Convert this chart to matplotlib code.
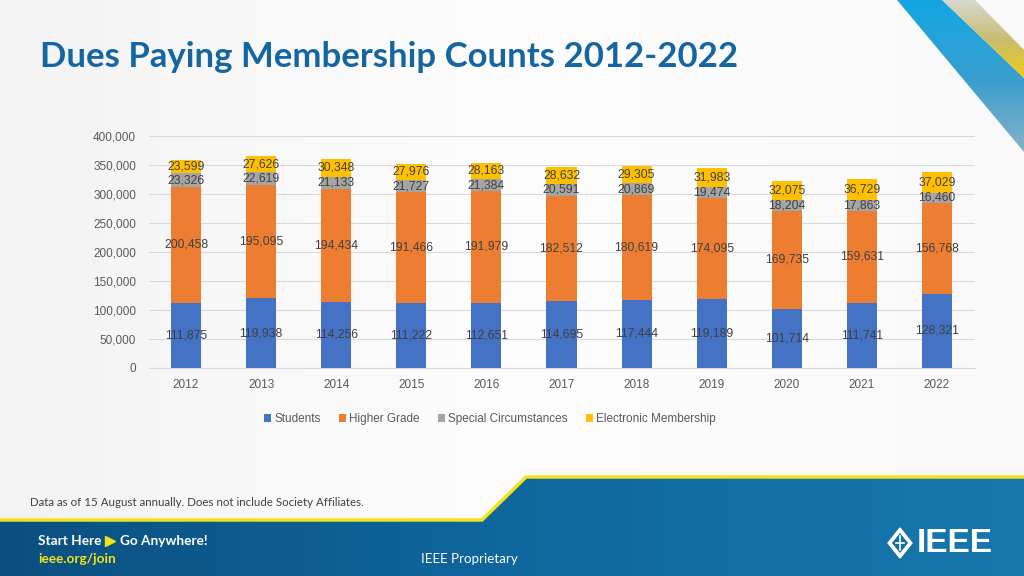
import matplotlib
matplotlib.use("Agg")
import matplotlib.pyplot as plt
import numpy as np
from matplotlib.patches import Polygon

years = ["2012", "2013", "2014", "2015", "2016", "2017", "2018", "2019", "2020", "2021", "2022"]
students = [111875, 119938, 114256, 111222, 112651, 114695, 117444, 119189, 101714, 111741, 128321]
higher_grade = [200458, 195095, 194434, 191466, 191979, 182512, 180619, 174095, 169735, 159631, 156768]
special = [23326, 22619, 21133, 21727, 21384, 20591, 20869, 19474, 18204, 17863, 16460]
electronic = [23599, 27626, 30348, 27976, 28163, 28632, 29305, 31983, 32075, 36729, 37029]
series_names = ["Students", "Higher Grade", "Special Circumstances", "Electronic Membership"]
colors = ["#4472C4", "#ED7D31", "#A5A5A5", "#FFC000"]
y_ticks = [0, 50000, 100000, 150000, 200000, 250000, 300000, 350000, 400000]

W, H = 1024, 576
fig = plt.figure(figsize=(W / 100, H / 100), dpi=100)
fig.patch.set_facecolor("#f9f9f9")

# ---------- background decorations ----------
bg = fig.add_axes([0, 0, 1, 1], zorder=0)
bg.set_xlim(0, W)
bg.set_ylim(H, 0)
bg.axis("off")

grad = np.linspace(0, 1, 256).reshape(1, -1)
bg.imshow(grad, extent=[0, W, H, 0], cmap=matplotlib.colors.LinearSegmentedColormap.from_list(
    "pg", ["#f3f3f3", "#fdfdfd", "#f9f9f9"]), aspect="auto", zorder=0)

# top-right stripes
blue_stripe = Polygon([(897, 0), (942, 0), (1024, 78), (1024, 152)], closed=True,
                      facecolor="none", edgecolor="none")
bg.add_patch(blue_stripe)
g = np.linspace(0, 1, 256).reshape(-1, 1)
im = bg.imshow(g, extent=[890, W, 160, 0], aspect="auto", zorder=1,
               cmap=matplotlib.colors.LinearSegmentedColormap.from_list(
                   "bs", ["#12a6e2", "#3a9fcf", "#8fb3c4"]))
im.set_clip_path(blue_stripe)

yellow_stripe = Polygon([(942, 0), (975, 0), (1024, 50), (1024, 78)], closed=True,
                        facecolor="none", edgecolor="none")
bg.add_patch(yellow_stripe)
im2 = bg.imshow(g, extent=[940, W, 80, 0], aspect="auto", zorder=1,
                cmap=matplotlib.colors.LinearSegmentedColormap.from_list(
                    "ys", ["#d8d8d2", "#c8bd70", "#f2cc10"]))
im2.set_clip_path(yellow_stripe)

# bottom blue band
band_pts = [(0, 520), (482, 520), (526, 477), (W, 477), (W, H), (0, H)]
band = Polygon(band_pts, closed=True, facecolor="none", edgecolor="none")
bg.add_patch(band)
gx = np.linspace(0, 1, 256).reshape(1, -1)
im3 = bg.imshow(gx, extent=[0, W, H, 470], aspect="auto", zorder=2,
                cmap=matplotlib.colors.LinearSegmentedColormap.from_list(
                    "bb", ["#0b4f80", "#0f679e", "#1778ae"]))
im3.set_clip_path(band)
bg.plot([0, 482, 526, W], [520, 520, 477, 477], color="#f2e21a", lw=2.5, zorder=3,
        solid_joinstyle="miter")

# texts
bg.text(40, 57, "Dues Paying Membership Counts 2012-2022", fontsize=25, fontweight="bold",
        family="Lato", color="#1565a3", va="center", ha="left", zorder=5)
bg.text(30, 502, "Data as of 15 August annually. Does not include Society Affiliates.",
        fontsize=8.3, family="Lato", color="#404040", va="center", ha="left", zorder=5)
bg.text(38, 541, "Start Here", fontsize=9.8, fontweight="bold", family="Lato",
        color="white", va="center", ha="left", zorder=5)
bg.plot([110], [541], marker=">", color="#f2e21a", markersize=6.5, zorder=5)
bg.text(120, 541, "Go Anywhere!", fontsize=9.8, fontweight="bold", family="Lato",
        color="white", va="center", ha="left", zorder=5)
bg.text(38, 559, "ieee.org/join", fontsize=9.8, fontweight="bold", family="Lato",
        color="#f2e21a", va="center", ha="left", zorder=5)
bg.text(421, 559, "IEEE Proprietary", fontsize=9.6, family="Lato",
        color="white", va="center", ha="left", zorder=5)

# IEEE logo
cx, cy = 900, 543
outer = Polygon([(cx, cy - 15), (cx + 12, cy), (cx, cy + 15), (cx - 12, cy)], closed=True,
                facecolor="white", edgecolor="white", zorder=5)
inner = Polygon([(cx, cy - 10), (cx + 8, cy), (cx, cy + 10), (cx - 8, cy)], closed=True,
                facecolor="#136ea5", edgecolor="none", zorder=6)
bg.add_patch(outer)
bg.add_patch(inner)
bg.plot([cx, cx], [cy - 7, cy + 7], color="white", lw=1.2, zorder=7)
bg.plot([cx - 4, cx + 4], [cy, cy], color="white", lw=1.2, zorder=7)
bg.text(917, 543, "IEEE", fontsize=24, fontweight="bold", family="Liberation Sans",
        color="white", va="center", ha="left", zorder=5)

# ---------- chart ----------
left, right = 148.5, 974.5
top, bottom = 136, 368
ax = fig.add_axes([left / W, 1 - bottom / H, (right - left) / W, (bottom - top) / H], zorder=2)
ax.set_facecolor("none")

x = np.arange(len(years))
data = [students, higher_grade, special, electronic]
base = np.zeros(len(years))
width = 0.4
for vals, name, col in zip(data, series_names, colors):
    vals = np.array(vals, dtype=float)
    ax.bar(x, vals, width, bottom=base, color=col, label=name, zorder=3)
    for xi, b, v in zip(x, base, vals):
        ax.text(xi, b + v / 2, f"{int(v):,}", ha="center", va="center", fontsize=8.7,
                family="Liberation Sans", color="#404040", zorder=4)
    base += vals

ax.set_xlim(-0.5, len(years) - 0.5)
ax.set_ylim(0, 400000)
ax.set_yticks(y_ticks)
ax.set_yticklabels([f"{v:,}" for v in y_ticks])
ax.set_xticks(x)
ax.set_xticklabels(years)
for lbl in ax.get_xticklabels() + ax.get_yticklabels():
    lbl.set_family("Liberation Sans")
    lbl.set_fontsize(8.5)
    lbl.set_color("#595959")
ax.tick_params(axis="both", length=0)
ax.tick_params(axis="y", pad=9)
ax.tick_params(axis="x", pad=8)
ax.grid(axis="y", color="#d9d9d9", lw=0.8, zorder=0)
for s in ["top", "right", "left"]:
    ax.spines[s].set_visible(False)
ax.spines["bottom"].set_color("#d9d9d9")
ax.spines["bottom"].set_linewidth(0.8)

leg = ax.legend(loc="center", bbox_to_anchor=(490 / W, 1 - 419 / H), bbox_transform=fig.transFigure,
                ncol=4, frameon=False, handlelength=0.6, handleheight=0.6, handletextpad=0.3,
                columnspacing=1.5, prop={"family": "Liberation Sans", "size": 8.5})
for t in leg.get_texts():
    t.set_color("#595959")

fig.savefig("out.png", dpi=100, facecolor=fig.get_facecolor())
